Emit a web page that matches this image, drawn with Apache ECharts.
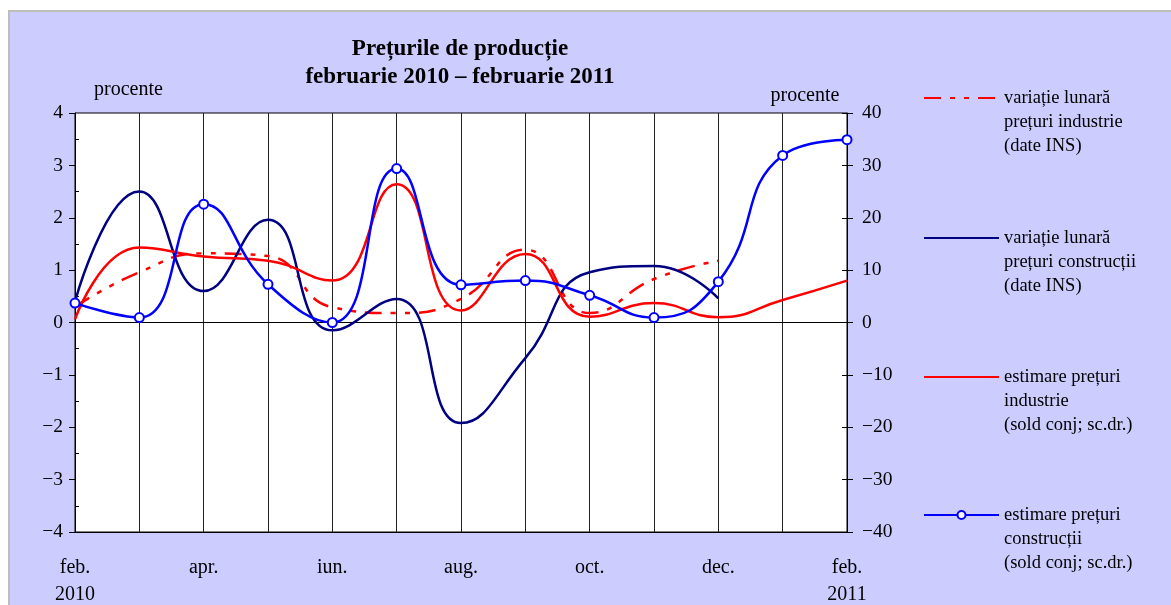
<!DOCTYPE html>
<html>
<head>
<meta charset="utf-8">
<script src="https://cdn.jsdelivr.net/npm/echarts@6/dist/echarts.min.js"></script>
<style>
html,body{margin:0;padding:0;background:#fff;}
#bg{position:absolute;left:8px;top:10px;width:1163px;height:595px;background:#CCCCFF;border-left:2px solid #bdbdbd;border-top:2px solid #bdbdbd;box-sizing:border-box;}
#chart{position:absolute;left:0;top:0;width:1171px;height:605px;}
</style>
</head>
<body>
<div id="bg"></div>
<div id="chart"></div>
<script>
const categories = ['feb.\n2010','mar.','apr.','mai','iun.','iul.','aug.','sep.','oct.','nov.','dec.','ian.','feb.\n2011'];
const seriesNames = [
  'variație lunară\nprețuri industrie\n(date INS)',
  'variație lunară\nprețuri construcții\n(date INS)',
  'estimare prețuri\nindustrie\n(sold conj; sc.dr.)',
  'estimare prețuri\nconstrucții\n(sold conj; sc.dr.)'
];
const varIndustrie   = [0.3, 0.96, 1.32, 1.27, 0.29, 0.18, 0.45, 1.39, 0.18, 0.83, 1.18, null, null];
const varConstructii = [0.4, 2.5, 0.6, 1.96, -0.15, 0.45, -1.92, -0.68, 0.96, 1.08, 0.46, null, null];
const estIndustrie   = [0.6, 14.3, 12.6, 11.8, 8.0, 26.4, 2.3, 13.1, 1.1, 3.7, 1.0, 4.3, 8.0];
const estConstructii = [3.7, 0.95, 22.6, 7.3, 0.0, 29.4, 7.2, 8.0, 5.2, 0.95, 7.8, 31.9, 34.9];
const leftTicks = {min: -4, max: 4, interval: 1};
const rightTicks = {min: -40, max: 40, interval: 10};

const FONT = '"Liberation Serif", "Times New Roman", serif';
const minus = v => v < 0 ? '\u2212' + (-v) : String(v);

const chart = echarts.init(document.getElementById('chart'), null, {renderer: 'canvas'});

function legendAt(name, top, hideSymbol) {
  const lg = {
    data: [name], left: 923, top: top, padding: 0,
    itemWidth: 75, itemHeight: 10,
    formatter: n => '\n\n' + n,
    textStyle: {fontFamily: FONT, fontSize: 18.5, color: '#000', lineHeight: 24},
    selectedMode: false
  };
  if (hideSymbol) lg.itemStyle = {opacity: 0};
  else lg.itemStyle = {color: '#fff', borderColor: '#0000ff', borderWidth: 2};
  return lg;
}

const hiddenAxisParts = {
  axisLine: {show: false}, axisLabel: {show: false}, splitLine: {show: false}
};

chart.setOption({
  backgroundColor: 'transparent',
  animation: false,
  title: {
    text: 'Prețurile de producție\nfebruarie 2010 – februarie 2011',
    left: 455, textAlign: 'center', top: 30,
    textStyle: {fontFamily: FONT, fontSize: 23, fontWeight: 'bold', color: '#000', lineHeight: 28}
  },
  legend: [
    legendAt(seriesNames[0], 38, true),
    legendAt(seriesNames[1], 178, true),
    legendAt(seriesNames[2], 317, true),
    legendAt(seriesNames[3], 455, false)
  ],
  grid: {left: 75, right: 324, top: 113, bottom: 73, outerBoundsMode: 'none', containLabel: false,
         show: true, backgroundColor: '#fff', borderColor: '#000', borderWidth: 1},
  xAxis: [{
    type: 'category', data: categories, boundaryGap: false,
    axisLine: {onZero: false, lineStyle: {color: '#000', width: 1}},
    axisTick: {show: false},
    axisLabel: {interval: 1, fontFamily: FONT, fontSize: 20, color: '#000', lineHeight: 27, margin: 22},
    splitLine: {show: true, interval: 0, lineStyle: {color: '#222', width: 1}}
  }, {
    type: 'category', data: categories, boundaryGap: false, position: 'bottom',
    axisLine: {onZero: true, onZeroAxisIndex: 0, lineStyle: {color: '#000', width: 1}},
    axisTick: {show: false}, axisLabel: {show: false}, splitLine: {show: false}
  }],
  yAxis: [{
    type: 'value', position: 'left', min: leftTicks.min, max: leftTicks.max, interval: leftTicks.interval,
    name: 'procente', nameLocation: 'end', nameGap: 13,
    nameTextStyle: {fontFamily: FONT, fontSize: 20, color: '#000', align: 'center', padding: [0, 0, 0, 107]},
    axisLine: {show: true, lineStyle: {color: '#000', width: 1}},
    axisTick: {show: true, length: 6, lineStyle: {color: '#000'}},
    axisLabel: {fontFamily: FONT, fontSize: 19.5, color: '#000', margin: 12, formatter: minus},
    splitLine: {show: false}
  }, {
    type: 'value', position: 'right', min: rightTicks.min, max: rightTicks.max, interval: rightTicks.interval,
    name: 'procente', nameLocation: 'end', nameGap: 7,
    nameTextStyle: {fontFamily: FONT, fontSize: 20, color: '#000', align: 'center', padding: [0, 84, 0, 0]},
    axisLine: {show: true, lineStyle: {color: '#000', width: 1}},
    axisTick: {show: true, length: 6, lineStyle: {color: '#000'}},
    axisLabel: {fontFamily: FONT, fontSize: 19.5, color: '#000', margin: 15, formatter: minus},
    splitLine: {show: false}
  }, Object.assign({
    type: 'value', position: 'left', min: leftTicks.min, max: leftTicks.max, interval: leftTicks.interval,
    axisTick: {show: false, inside: true},
    minorTick: {show: true, splitNumber: 2, length: 4, lineStyle: {color: '#000'}}
  }, hiddenAxisParts), Object.assign({
    type: 'value', position: 'right', min: rightTicks.min, max: rightTicks.max, interval: rightTicks.interval,
    axisTick: {show: true, inside: true, length: 5, lineStyle: {color: '#000'}}
  }, hiddenAxisParts)],
  series: [{
    name: seriesNames[0], type: 'line', yAxisIndex: 0, data: varIndustrie, smooth: 0.5,
    showSymbol: false, symbol: 'none',
    lineStyle: {color: '#ff0000', width: 2.5, type: [17, 9, 5, 9, 5, 9]}, itemStyle: {color: '#ff0000'}
  }, {
    name: seriesNames[1], type: 'line', yAxisIndex: 0, data: varConstructii, smooth: 0.5,
    showSymbol: false, symbol: 'none',
    lineStyle: {color: '#000080', width: 2.5}, itemStyle: {color: '#000080'}
  }, {
    name: seriesNames[2], type: 'line', yAxisIndex: 1, data: estIndustrie, smooth: 0.5,
    showSymbol: false, symbol: 'none',
    lineStyle: {color: '#ff0000', width: 2.5}, itemStyle: {color: '#ff0000'}
  }, {
    name: seriesNames[3], type: 'line', yAxisIndex: 1, data: estConstructii, smooth: 0.5,
    symbol: 'circle', symbolSize: 9, showSymbol: true,
    lineStyle: {color: '#0000ff', width: 2.5}, itemStyle: {color: '#fff', borderColor: '#0000ff', borderWidth: 2}
  }]
});
</script>
</body>
</html>
